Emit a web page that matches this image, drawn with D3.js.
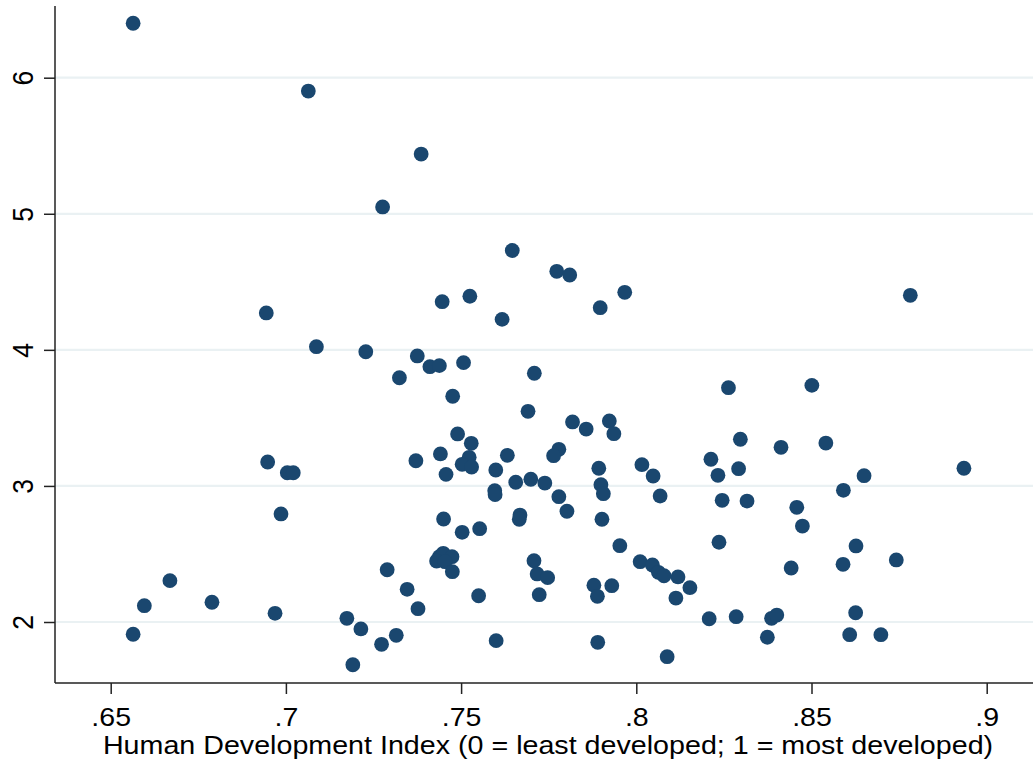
<!DOCTYPE html>
<html>
<head>
<meta charset="utf-8">
<script src="https://cdn.jsdelivr.net/npm/d3@7"></script>
<style>
  html, body { margin: 0; padding: 0; background: #fff; }
  svg { display: block; }
  text { font-family: "Liberation Sans", Arial, sans-serif; fill: #000; }
</style>
</head>
<body>
<svg id="chart" width="1033" height="762"></svg>
<script>
// Human Development Index (x) vs outcome (y)
const hdi = [
  0.6564, 0.7064, 0.7386, 0.7276, 0.7646, 0.7773, 0.7810, 0.7967, 0.7525, 0.7446,
  0.7897, 0.7617, 0.7228, 0.7375, 0.7411, 0.7438, 0.7507, 0.7324, 0.7709, 0.7476,
  0.7691, 0.7818, 0.7857, 0.7923, 0.7936, 0.7490, 0.7529, 0.7441, 0.7371, 0.7632,
  0.7779, 0.7764, 0.7523, 0.7503, 0.7530, 0.7457, 0.7599, 0.7893, 0.8016, 0.8048,
  0.7656, 0.7699, 0.7739, 0.7899, 0.7596, 0.7597, 0.7779, 0.7906, 0.8068, 0.6944,
  0.7087, 0.6948, 0.7004, 0.7021, 0.6986, 0.8782, 0.8263, 0.8501, 0.8297, 0.8413,
  0.8541, 0.8213, 0.8292, 0.8233, 0.8935, 0.8650, 0.8591, 0.8245, 0.8316, 0.8458,
  0.6669, 0.6596, 0.6789, 0.6969, 0.6564, 0.7450, 0.7668, 0.7666, 0.7802, 0.7902,
  0.7503, 0.7553, 0.7953, 0.7289, 0.7346, 0.7377, 0.7438, 0.7449, 0.7474, 0.7430,
  0.7454, 0.7475, 0.7550, 0.7708, 0.7717, 0.7747, 0.7723, 0.7600, 0.7879, 0.7930,
  0.7889, 0.7890, 0.8011, 0.8046, 0.8063, 0.8079, 0.8119, 0.8113, 0.8088, 0.7174,
  0.7214, 0.7273, 0.7315, 0.7191, 0.8474, 0.8236, 0.8627, 0.8742, 0.8590, 0.8442,
  0.8153, 0.8208, 0.8285, 0.8386, 0.8401, 0.8374, 0.8626, 0.8609, 0.8698
];
const outcome = [
  6.400, 5.902, 5.439, 5.050, 4.730, 4.577, 4.550, 4.423, 4.394, 4.354,
  4.310, 4.224, 3.986, 3.955, 3.876, 3.884, 3.906, 3.795, 3.828, 3.659,
  3.548, 3.470, 3.418, 3.477, 3.384, 3.382, 3.313, 3.235, 3.185, 3.225,
  3.269, 3.222, 3.210, 3.159, 3.139, 3.085, 3.117, 3.130, 3.156, 3.073,
  3.027, 3.049, 3.021, 3.009, 2.965, 2.936, 2.921, 2.943, 2.926, 4.271,
  4.023, 3.176, 3.097, 3.097, 2.794, 4.401, 3.722, 3.739, 3.343, 3.284,
  3.315, 3.196, 3.127, 3.078, 3.130, 3.075, 2.968, 2.894, 2.889, 2.843,
  2.304, 2.120, 2.145, 2.064, 1.910, 2.757, 2.786, 2.755, 2.814, 2.755,
  2.659, 2.686, 2.561, 2.384, 2.240, 2.098, 2.480, 2.505, 2.480, 2.448,
  2.443, 2.370, 2.193, 2.450, 2.353, 2.326, 2.201, 1.863, 2.270, 2.267,
  2.189, 1.851, 2.443, 2.419, 2.365, 2.340, 2.331, 2.176, 1.745, 2.027,
  1.949, 1.836, 1.902, 1.686, 2.705, 2.586, 2.559, 2.456, 2.424, 2.397,
  2.252, 2.024, 2.039, 2.027, 2.051, 1.888, 2.068, 1.907, 1.907
];
const xTicks = [0.65, 0.70, 0.75, 0.80, 0.85, 0.90];
const xTickLabels = [".65", ".7", ".75", ".8", ".85", ".9"];
const yTicks = [2, 3, 4, 5, 6];
const yTickLabels = ["2", "3", "4", "5", "6"];
const xTitle = "Human Development Index (0 = least developed; 1 = most developed)";

const svg = d3.select("#chart");
const W = 1033, H = 762;
const axisX = 55, axisY = 683, plotTop = 6, plotRight = W;
const stretch = 1.12;   // reference text is slightly wide

const x = d3.scaleLinear().domain([0.65, 0.90]).range([110.7, 986.7]);
const y = d3.scaleLinear().domain([2, 6]).range([622, 77.7]);

svg.append("rect").attr("width", W).attr("height", H).attr("fill", "#fff");

// gridlines
svg.append("g").selectAll("line").data(yTicks).join("line")
  .attr("x1", axisX).attr("x2", plotRight)
  .attr("y1", d => y(d)).attr("y2", d => y(d))
  .attr("stroke", "#eaf1f3").attr("stroke-width", 2.2);

// points
svg.append("g").selectAll("circle").data(hdi.map((v, i) => [v, outcome[i]])).join("circle")
  .attr("cx", d => x(d[0])).attr("cy", d => y(d[1]))
  .attr("r", 7.4).attr("fill", "#1a476f");

// y axis
const yAxis = d3.axisLeft(y).tickValues(yTicks).tickSize(11)
  .tickFormat((d, i) => yTickLabels[i]);
const gy = svg.append("g").attr("transform", `translate(${axisX},0)`).call(yAxis);
gy.select(".domain").remove();
gy.selectAll(".tick line").attr("stroke", "#222").attr("stroke-width", 1.5);
gy.selectAll(".tick text")
  .attr("x", 0).attr("y", 0).attr("dy", 0)
  .attr("transform", `translate(-21.7,0) scale(${stretch},1) rotate(-90)`)
  .attr("text-anchor", "middle")
  .style("font-size", "26.5px").style("fill", "#000")
  .style("font-family", '"Liberation Sans", Arial, sans-serif');

svg.append("line").attr("x1", axisX).attr("x2", axisX)
  .attr("y1", plotTop).attr("y2", axisY)
  .attr("stroke", "#222").attr("stroke-width", 1.5);

// x axis
const xAxis = d3.axisBottom(x).tickValues(xTicks).tickSize(11)
  .tickFormat((d, i) => xTickLabels[i]);
const gx = svg.append("g").attr("transform", `translate(0,${axisY})`).call(xAxis);
gx.select(".domain").remove();
gx.selectAll(".tick line").attr("stroke", "#222").attr("stroke-width", 1.5);
gx.selectAll(".tick text")
  .attr("x", 0).attr("y", 0).attr("dy", 0)
  .attr("transform", `translate(0,43) scale(${stretch},1)`)
  .style("font-size", "25.5px").style("fill", "#000")
  .style("font-family", '"Liberation Sans", Arial, sans-serif');

svg.append("line").attr("x1", axisX).attr("x2", plotRight)
  .attr("y1", axisY).attr("y2", axisY)
  .attr("stroke", "#222").attr("stroke-width", 1.5);

// x title
svg.append("text")
  .attr("transform", `translate(548,753.5) scale(${stretch},1)`)
  .attr("text-anchor", "middle")
  .style("font-size", "25.6px")
  .text(xTitle);
</script>
</body>
</html>
